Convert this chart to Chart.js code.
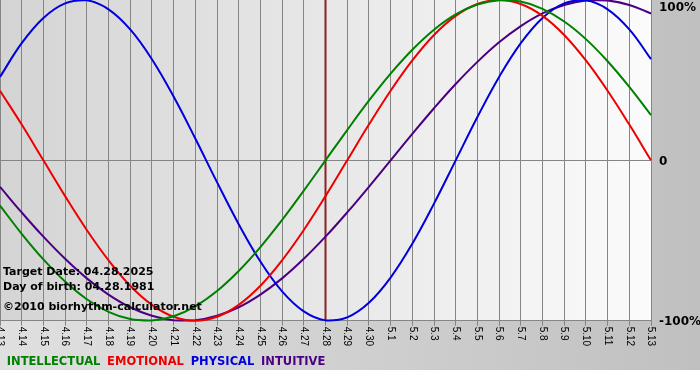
<!DOCTYPE html>
<html>
<head>
<meta charset="utf-8">
<script src="https://cdn.jsdelivr.net/npm/chart.js@4.4.0/dist/chart.umd.min.js"></script>
<style>
  html, body { margin: 0; padding: 0; background: #fff; }
  canvas { display: block; }
</style>
</head>
<body>
<canvas id="bioChart" width="700" height="380"></canvas>
<script>
// days shown on the x axis (month.day)
const days = ['4.13', '4.14', '4.15', '4.16', '4.17', '4.18', '4.19', '4.20', '4.21', '4.22',
  '4.23', '4.24', '4.25', '4.26', '4.27', '4.28', '4.29', '4.30', '5.1', '5.2', '5.3',
  '5.4', '5.5', '5.6', '5.7', '5.8', '5.9', '5.10', '5.11', '5.12', '5.13'];

// curve values per day, -1 .. 1
const intellectual = [-0.282, -0.458, -0.618, -0.756, -0.866, -0.945, -0.990, -0.999, -0.972, -0.910,
  -0.815, -0.690, -0.541, -0.372, -0.189, 0, 0.189, 0.372, 0.541, 0.690, 0.815,
  0.910, 0.972, 0.999, 0.990, 0.945, 0.866, 0.756, 0.618, 0.458, 0.282];
const emotional = [0.434, 0.223, 0, -0.223, -0.434, -0.623, -0.782, -0.901, -0.975, -1,
  -0.975, -0.901, -0.782, -0.623, -0.434, -0.223, 0, 0.223, 0.434, 0.623, 0.782,
  0.901, 0.975, 1, 0.975, 0.901, 0.782, 0.623, 0.434, 0.223, 0];
const physical = [0.520, 0.731, 0.888, 0.979, 0.998, 0.942, 0.817, 0.631, 0.398, 0.136,
  -0.136, -0.398, -0.631, -0.817, -0.942, -0.998, -0.979, -0.888, -0.731, -0.520, -0.270,
  0, 0.270, 0.520, 0.731, 0.888, 0.979, 0.998, 0.942, 0.817, 0.631];
const intuitive = [-0.165, -0.325, -0.476, -0.614, -0.736, -0.837, -0.916, -0.969, -0.997, -0.997,
  -0.969, -0.916, -0.837, -0.736, -0.614, -0.476, -0.325, -0.165, 0, 0.165, 0.325,
  0.476, 0.614, 0.736, 0.837, 0.916, 0.969, 0.997, 0.997, 0.969, 0.916];

const yTicks = [1, 0, -1];
const yTickLabels = ['100%', '0', '-100%'];
const targetDay = '4.28';
const infoLines = ['Target Date: 04.28.2025', 'Day of birth: 04.28.1981', '©2010 biorhythm-calculator.net'];

const GRID = '#858585';

// hintergrund, zieltag-linie und beschriftungen
const decor = {
  id: 'decor',
  beforeDraw(chart) {
    const ctx = chart.ctx;
    const a = chart.chartArea;
    ctx.save();
    let g = ctx.createLinearGradient(0, 0, chart.width, 0);
    g.addColorStop(0, '#e0e0e0');
    g.addColorStop(1, '#c0c0c0');
    ctx.fillStyle = g;
    ctx.fillRect(0, 0, chart.width, chart.height);
    ctx.fillStyle = '#ffffff';
    ctx.fillRect(0, 370, chart.width, chart.height - 370);
    g = ctx.createLinearGradient(a.left, 0, a.right, 0);
    g.addColorStop(0, '#d4d4d4');
    g.addColorStop(1, '#fbfbfb');
    ctx.fillStyle = g;
    ctx.fillRect(a.left, a.top, a.right - a.left, a.bottom - a.top);
    ctx.restore();
  },
  beforeDatasetsDraw(chart) {
    const ctx = chart.ctx;
    const a = chart.chartArea;
    const x = chart.scales.x.getPixelForValue(days.indexOf(targetDay));
    ctx.save();
    ctx.strokeStyle = '#8b2323';
    ctx.lineWidth = 2;
    ctx.beginPath();
    ctx.moveTo(x, a.top);
    ctx.lineTo(x, a.bottom);
    ctx.stroke();
    ctx.restore();
  },
  afterDraw(chart) {
    const ctx = chart.ctx;
    const a = chart.chartArea;
    const xs = chart.scales.x, ys = chart.scales.y;
    ctx.save();
    // x labels, gedreht (oben nach unten lesbar)
    ctx.fillStyle = '#000';
    ctx.font = '10px "Liberation Sans", Arial, sans-serif';
    ctx.textAlign = 'left';
    ctx.textBaseline = 'middle';
    days.forEach((d, i) => {
      ctx.save();
      ctx.translate(xs.getPixelForTick(i), a.bottom + 6);
      ctx.rotate(Math.PI / 2);
      ctx.fillText(d, 0, 0);
      ctx.restore();
    });
    // y labels rechts
    ctx.font = 'bold 12px "DejaVu Sans", Verdana, sans-serif';
    yTicks.forEach((v, i) => {
      const y = Math.max(ys.getPixelForValue(v) + 1.5, 8);
      ctx.fillText(yTickLabels[i], a.right + 8, y);
    });
    // info text unten links
    ctx.font = 'bold 11px "DejaVu Sans", Verdana, sans-serif';
    ctx.fillText(infoLines[0], 3, 272.5);
    ctx.fillText(infoLines[1], 3, 287);
    ctx.fillText(infoLines[2], 3, 307);
    ctx.restore();
  }
};

const series = [
  { label: 'INTELLECTUAL', data: intellectual, color: '#008000' },
  { label: 'EMOTIONAL', data: emotional, color: '#ee0000' },
  { label: 'PHYSICAL', data: physical, color: '#0000dd' },
  { label: 'INTUITIVE', data: intuitive, color: '#4b0082' }
];

new Chart(document.getElementById('bioChart'), {
  type: 'line',
  data: {
    labels: days,
    datasets: series.map(s => ({
      label: s.label,
      data: s.data,
      borderColor: s.color,
      backgroundColor: s.color,
      borderWidth: 2,
      pointRadius: 0,
      tension: 0.4,
      fill: false,
      clip: 4
    }))
  },
  options: {
    responsive: false,
    animation: false,
    layout: { padding: { top: 0, left: 0, right: 49, bottom: 2 } },
    plugins: {
      tooltip: { enabled: false },
      legend: {
        position: 'bottom',
        align: 'start',
        labels: {
          boxWidth: -3, // kein farbkasten, text enger zusammen
          padding: 4,
          font: { family: '"DejaVu Sans", Verdana, sans-serif', size: 11.5, weight: 'bold' },
          generateLabels: chart => chart.data.datasets.map((ds, i) => ({
            text: ds.label,
            fontColor: ds.borderColor,
            fillStyle: 'transparent',
            strokeStyle: 'transparent',
            lineWidth: 0,
            hidden: false,
            datasetIndex: i
          }))
        }
      }
    },
    scales: {
      x: {
        offset: false,
        ticks: { display: false },
        grid: { color: GRID, lineWidth: 1, drawTicks: true, tickLength: 5, tickColor: GRID },
        border: { display: true, color: GRID, width: 1 },
        afterFit: s => { s.height = 31.8; }
      },
      y: {
        min: -1,
        max: 1,
        ticks: { display: false, stepSize: 1 },
        grid: {
          drawTicks: false,
          color: c => (c.tick && c.tick.value === 0 ? GRID : 'transparent')
        },
        border: { display: false },
        afterFit: s => { s.width = 0; }
      }
    }
  },
  plugins: [decor]
});
</script>
</body>
</html>
